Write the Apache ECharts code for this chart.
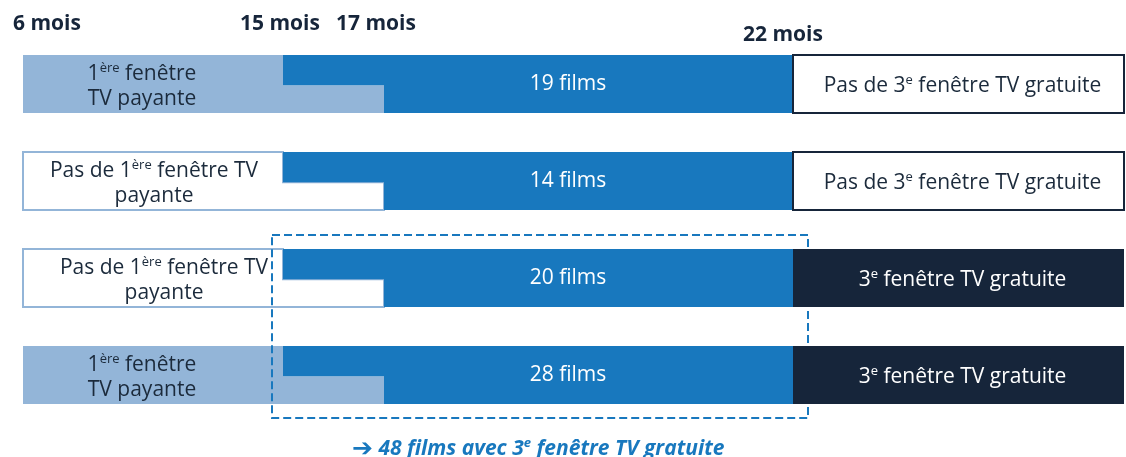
<!DOCTYPE html>
<html>
<head>
<meta charset="utf-8">
<script src="https://cdn.jsdelivr.net/npm/echarts@6/dist/echarts.min.js"></script>
<style>
  html, body { margin: 0; padding: 0; background: #fff; }
  #chart { width: 1126px; height: 457px; }
</style>
</head>
<body>
<div id="chart"></div>
<script>
// rows of the diagram (top -> bottom)
const rowNames = ['r1', 'r2', 'r3', 'r4']
const filmCounts = [19, 14, 20, 28]
// 1 = 1ère fenêtre TV payante present, 0 = absent
const firstWindow = [1, 0, 0, 1]
// 1 = 3e fenêtre TV gratuite present, 0 = absent
const thirdWindow = [0, 0, 1, 1]
// milestones on the (schematic) time axis
const milestoneLabels = ['6 mois', '15 mois', '17 mois', '22 mois']
const milestoneX = [0, 260, 361, 770]
const axisEnd = 1101
const totalWithThird = 48

const LIGHT = '#93b5d8'
const BLUE = '#1878be'
const NAVY = '#16253a'
const TXT = '#1b2a3b'
const FONT = '"Open Sans", "Noto Sans", sans-serif'

function richStyles (color) {
    return {
        n: { fontSize: 21, fontFamily: FONT, fill: color, lineHeight: 25 },
        s: { fontSize: 13, fontFamily: FONT, fill: color, lineHeight: 13, verticalAlign: 'top' }
    }
}

function txt (x, y, text, color) {
    return {
        type: 'text',
        style: {
            x: x, y: y, text: text,
            fontSize: 21, fontFamily: FONT, fill: color,
            align: 'center', verticalAlign: 'middle',
            rich: richStyles(color)
        }
    }
}

function rowGeom (api, i) {
    const c = api.coord([0, i])
    const band = api.size([0, 1])[1]
    const h = band * 0.6
    const top = c[1] - h / 2, bot = c[1] + h / 2
    const px = v => api.coord([v, i])[0]
    return {
        top: top, bot: bot, mid: top + h * 0.52, cy: (top + bot) / 2,
        x6: px(milestoneX[0]), x15: px(milestoneX[1]), x17: px(milestoneX[2]), x22: px(milestoneX[3]), xe: px(axisEnd)
    }
}

// 1ère fenêtre + films block
function renderLeft (params, api) {
    const i = params.dataIndex
    const g = rowGeom(api, i)
    const kids = []
    kids.push({
        type: 'polygon',
        shape: { points: [[g.x6, g.top], [g.x15, g.top], [g.x15, g.mid], [g.x17, g.mid], [g.x17, g.bot], [g.x6, g.bot]] },
        style: firstWindow[i]
            ? { fill: LIGHT, stroke: null }
            : { fill: '#fff', stroke: LIGHT, lineWidth: 2 }
    })
    kids.push({
        type: 'polygon',
        shape: { points: [[g.x15, g.top], [g.x22, g.top], [g.x22, g.bot], [g.x17, g.bot], [g.x17, g.mid], [g.x15, g.mid]] },
        style: { fill: BLUE }
    })
    if (firstWindow[i]) {
        kids.push(txt(g.x6 + 119, g.cy + 3, '{n|1}{s|ère}{n| fenêtre}\n{n|TV payante}', TXT))
    } else {
        kids.push(txt(g.x6 + 131 + (i === 2 ? 10 : 0), g.cy + 3, '{n|Pas de 1}{s|ère}{n| fenêtre TV}\n{n|payante}', TXT))
    }
    kids.push(txt((g.x15 + g.x22) / 2 + 30, g.cy, '{n|' + filmCounts[i] + ' films}', '#fff'))
    return { type: 'group', children: kids }
}

// 3e fenêtre
function renderRight (params, api) {
    const i = params.dataIndex
    const g = rowGeom(api, i)
    const kids = [{
        type: 'rect',
        shape: { x: g.x22, y: g.top, width: g.xe - g.x22, height: g.bot - g.top },
        style: thirdWindow[i]
            ? { fill: NAVY }
            : { fill: '#fff', stroke: NAVY, lineWidth: 2 }
    }]
    if (thirdWindow[i]) {
        kids.push(txt((g.x22 + g.xe) / 2 + 4, g.cy + 2, '{n|3}{s|e}{n| fenêtre TV gratuite}', '#fff'))
    } else {
        kids.push(txt((g.x22 + g.xe) / 2 + 4, g.cy + 2, '{n|Pas de 3}{s|e}{n| fenêtre TV gratuite}', TXT))
    }
    return { type: 'group', children: kids }
}

// dashed frame around rows having a 3e fenêtre
function renderFrame (params, api) {
    const rows = []
    thirdWindow.forEach((v, i) => { if (v) rows.push(i) })
    const band = api.size([0, 1])[1]
    const h = band * 0.6
    const y0 = api.coord([0, rows[0]])[1] - h / 2 - 14
    const y1 = api.coord([0, rows[rows.length - 1]])[1] + h / 2 + 14
    const xa = api.coord([milestoneX[1], 0])[0] - 11
    const xb = api.coord([milestoneX[3], 0])[0] + 15
    return {
        type: 'rect',
        shape: { x: xa, y: y0, width: xb - xa, height: y1 - y0 },
        style: { fill: null, stroke: BLUE, lineWidth: 2, lineDash: [8, 4] }
    }
}

function renderMilestone (params, api) {
    const i = params.dataIndex
    const x = api.coord([milestoneX[i], 0])[0]
    const first = i === 0
    const last = i === milestoneLabels.length - 1
    return {
        type: 'text',
        style: {
            x: first ? x - 10 : x - (i === 1 ? 3 : (last ? 10 : 8)),
            y: last ? 35 : 24,
            text: milestoneLabels[i],
            fontSize: 21, fontWeight: 'bold', fontFamily: FONT, fill: NAVY,
            align: first ? 'left' : 'center', verticalAlign: 'middle'
        }
    }
}

const chart = echarts.init(document.getElementById('chart'), null, { renderer: 'canvas' })
const option = {
    animation: false,
    title: {
        text: '{r|➔}{a| ' + totalWithThird + ' films avec 3}{s|e}{a| fenêtre TV gratuite}',
        left: 347,
        top: 432,
        textStyle: {
            rich: {
                r: { fontSize: 25, fontWeight: 'bold', color: BLUE, fontFamily: 'DejaVu Sans', lineHeight: 25 },
                a: { fontSize: 21, fontWeight: 'bold', fontStyle: 'italic', color: BLUE, fontFamily: FONT, lineHeight: 25 },
                s: { fontSize: 13, fontWeight: 'bold', fontStyle: 'italic', color: BLUE, fontFamily: FONT, lineHeight: 13, verticalAlign: 'top' }
            }
        }
    },
    grid: { left: 23, right: 2, top: 35.5, bottom: 33.5 },
    xAxis: { type: 'value', min: 0, max: axisEnd, show: false },
    yAxis: { type: 'category', data: rowNames, inverse: true, show: false },
    series: [
        {
            type: 'custom',
            name: 'films',
            renderItem: renderLeft,
            encode: { x: 0, y: 1 },
            data: rowNames.map((r, i) => [0, i]),
            z: 2
        },
        {
            type: 'custom',
            name: 'frame',
            renderItem: renderFrame,
            encode: { x: 0, y: 1 },
            data: [[0, 0]],
            z: 3,
            clip: false
        },
        {
            type: 'custom',
            name: 'gratuite',
            renderItem: renderRight,
            encode: { x: 0, y: 1 },
            data: rowNames.map((r, i) => [0, i]),
            z: 4
        },
        {
            type: 'custom',
            name: 'mois',
            renderItem: renderMilestone,
            encode: { x: 0, y: 1 },
            data: milestoneX.map(v => [v, 0]),
            z: 5,
            clip: false
        }
    ]
}
option && chart.setOption(option)
</script>
</body>
</html>
